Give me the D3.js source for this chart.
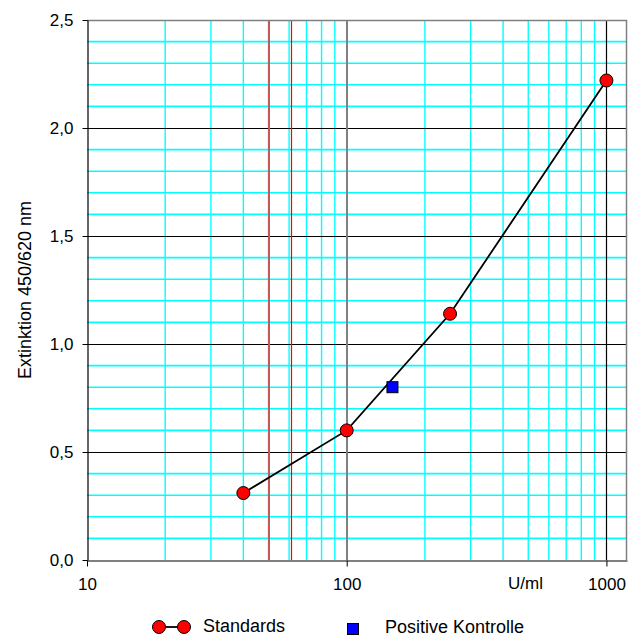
<!DOCTYPE html>
<html>
<head>
<meta charset="utf-8">
<script src="https://cdn.jsdelivr.net/npm/d3@7"></script>
<style>
  body { margin: 0; background: #fff; }
  text { font-family: "Liberation Sans", Arial, sans-serif; fill: #000; }
</style>
</head>
<body>
<script>
// values
const standardsConc = [40, 100, 250, 1000];
const standardsOD = [0.31, 0.60, 1.14, 2.22];
const controlConc = [150];
const controlOD = [0.80];
const cutoffConc = [50, 61];
const xMajorTicks = [10, 100, 1000];
const yMajorTicks = [0, 0.5, 1.0, 1.5, 2.0, 2.5];

let width = 634,
  height = 637;
let margin = { top: 20, right: 7, bottom: 77, left: 87 };

let svg = d3.select("body").append("svg")
  .attr("width", width)
  .attr("height", height);

let x = d3.scaleLog().domain([10, 1200]).range([margin.left, width - margin.right]);
let y = d3.scaleLinear().domain([0, 2.5]).range([height - margin.bottom, margin.top]);

let x0 = x.range()[0], x1 = x.range()[1];
let y0 = y.range()[0], y1 = y.range()[1];

// pixel-snapped position for 1px lines
let snap = v => Math.round(v) + 0.5;

let grid = svg.append("g");

// minor horizontal grid every 0.1
let yMinor = d3.range(1, 25).filter(d => d % 5 !== 0).map(d => d / 10);
grid.selectAll(".hminor")
  .data(yMinor)
  .enter().append("line")
  .attr("x1", x0).attr("x2", x1)
  .attr("y1", d => y(d)).attr("y2", d => y(d))
  .attr("stroke", "#00ffff").attr("stroke-width", 1.6);

// minor vertical grid (2..9 of every decade)
let xMinor = x.ticks().filter(d => xMajorTicks.indexOf(d) < 0 && d < 1200);
grid.selectAll(".vminor")
  .data(xMinor)
  .enter().append("line")
  .attr("x1", d => x(d)).attr("x2", d => x(d))
  .attr("y1", y0).attr("y2", y1)
  .attr("stroke", "#00ffff").attr("stroke-width", 1.4);

// major horizontal lines
grid.selectAll(".hmajor")
  .data(yMajorTicks.filter(d => d > 0 && d < 2.5))
  .enter().append("line")
  .attr("x1", x0).attr("x2", x1)
  .attr("y1", d => snap(y(d))).attr("y2", d => snap(y(d)))
  .attr("stroke", "#000").attr("stroke-width", 1.2);

// cutoff lines
grid.selectAll(".cutoff")
  .data(cutoffConc)
  .enter().append("line")
  .attr("x1", (d, i) => i === 0 ? Math.round(x(d)) : snap(x(d)))
  .attr("x2", (d, i) => i === 0 ? Math.round(x(d)) : snap(x(d)))
  .attr("y1", y0).attr("y2", y1)
  .attr("stroke", (d, i) => i === 0 ? "#c05a5a" : "#ff0000")
  .attr("stroke-width", (d, i) => i === 0 ? 2 : 1.2);

// decade lines
grid.append("line")
  .attr("x1", Math.round(x(100))).attr("x2", Math.round(x(100)))
  .attr("y1", y0).attr("y2", y1)
  .attr("stroke", "#808080").attr("stroke-width", 2);
grid.append("line")
  .attr("x1", snap(x(1000))).attr("x2", snap(x(1000)))
  .attr("y1", y0).attr("y2", y1)
  .attr("stroke", "#000").attr("stroke-width", 1.2);

// top and right border
grid.append("path")
  .attr("d", `M${x0},${y1 + 0.5}H${x1 - 0.5}V${y0}`)
  .attr("fill", "none")
  .attr("stroke", "#808080").attr("stroke-width", 1.5);

// axes
let yAxis = d3.axisLeft(y)
  .tickValues(yMajorTicks)
  .tickSize(5)
  .tickSizeOuter(0)
  .tickFormat(d => d3.format(".1f")(d).replace(".", ","));
let gy = svg.append("g")
  .attr("transform", `translate(${x0 + 0.5},0)`)
  .call(yAxis);
gy.select(".domain").attr("stroke", "#000").attr("stroke-width", 1.2);
gy.selectAll(".tick line").attr("stroke", "#000");
gy.selectAll(".tick text")
  .attr("x", -14)
  .style("font-size", "17px")
  .style("font-family", "Liberation Sans, Arial, sans-serif");

let xAxis = d3.axisBottom(x)
  .tickValues(xMajorTicks)
  .tickSize(6)
  .tickSizeOuter(0)
  .tickFormat(d3.format("d"));
let gx = svg.append("g")
  .attr("transform", `translate(0,${y0 + 0.5})`)
  .call(xAxis);
gx.select(".domain").attr("stroke", "#000").attr("stroke-width", 1.2);
gx.selectAll(".tick line").attr("stroke", "#000");
gx.selectAll(".tick text")
  .attr("y", 17)
  .style("font-size", "17px")
  .style("font-family", "Liberation Sans, Arial, sans-serif");

svg.append("text")
  .attr("x", 508).attr("y", 589)
  .style("font-size", "17px")
  .text("U/ml");

svg.append("text")
  .attr("transform", `translate(31,${(y0 + y1) / 2}) rotate(-90)`)
  .attr("text-anchor", "middle")
  .style("font-size", "18px")
  .text("Extinktion 450/620 nm");

// standards curve
let standards = standardsConc.map((c, i) => ({ c: c, v: standardsOD[i] }));
let line = d3.line()
  .x(d => x(d.c))
  .y(d => y(d.v));

svg.append("path")
  .datum(standards)
  .attr("d", line)
  .attr("fill", "none")
  .attr("stroke", "#000")
  .attr("stroke-width", 1.8);

svg.selectAll(".std")
  .data(standards)
  .enter().append("circle")
  .attr("cx", d => x(d.c))
  .attr("cy", d => y(d.v))
  .attr("r", 6.5)
  .attr("fill", "#ff0000")
  .attr("stroke", "#000")
  .attr("stroke-width", 1);

let control = controlConc.map((c, i) => ({ c: c, v: controlOD[i] }));
svg.selectAll(".ctrl")
  .data(control)
  .enter().append("rect")
  .attr("x", d => x(d.c) - 5.5)
  .attr("y", d => y(d.v) - 5.5)
  .attr("width", 11).attr("height", 11)
  .attr("fill", "#0000ff")
  .attr("stroke", "#000")
  .attr("stroke-width", 1);

// legend
let lg = svg.append("g");
lg.append("line")
  .attr("x1", 159).attr("x2", 184)
  .attr("y1", 627).attr("y2", 627)
  .attr("stroke", "#000").attr("stroke-width", 1.8);
lg.selectAll(".lgc")
  .data([159, 184])
  .enter().append("circle")
  .attr("cx", d => d).attr("cy", 627)
  .attr("r", 6.5)
  .attr("fill", "#ff0000")
  .attr("stroke", "#000");
lg.append("text")
  .attr("x", 203).attr("y", 632)
  .style("font-size", "18px")
  .text("Standards");
lg.append("rect")
  .attr("x", 347.5).attr("y", 623.5)
  .attr("width", 11).attr("height", 11)
  .attr("fill", "#0000ff")
  .attr("stroke", "#000");
lg.append("text")
  .attr("x", 385).attr("y", 633)
  .style("font-size", "18px")
  .text("Positive Kontrolle");
</script>
</body>
</html>
